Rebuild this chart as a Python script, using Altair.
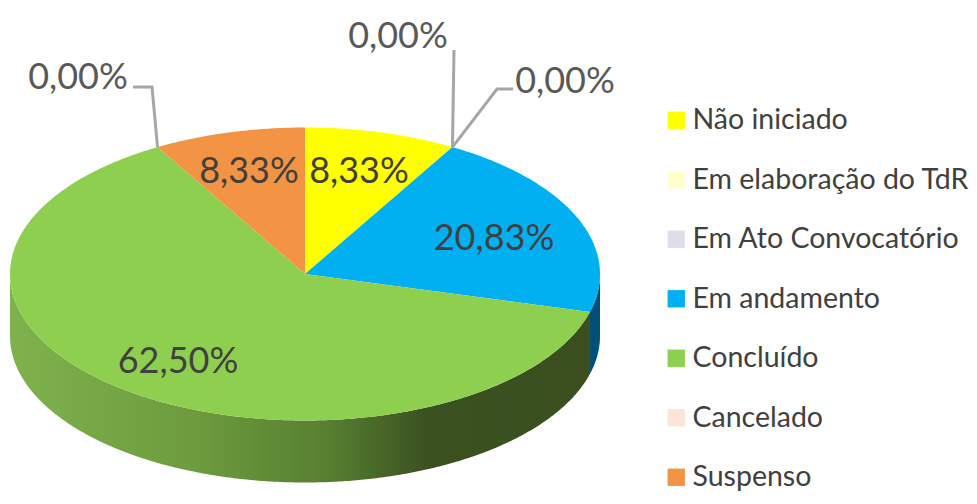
import math
import altair as alt

# ---- chart values -------------------------------------------------
categories = ["Não iniciado", "Em elaboração do TdR", "Em Ato Convocatório",
              "Em andamento", "Concluído", "Cancelado", "Suspenso"]
shares = [8.33, 0.0, 0.0, 20.83, 62.50, 0.0, 8.33]
colors = ["#FFFF00", "#FFFFCC", "#E1DCEB", "#00B0F0", "#8FCF50", "#FCE4D6", "#F39344"]

# ---- layout of the tilted pie (reference pixels) --------------------
CX, CY, RX, RY, DEPTH = 305, 274, 295, 146.5, 62
total = sum(shares)


def rim(deg, drop=0):
    a = math.radians(deg)
    return [CX + RX * math.sin(a), CY - RY * math.cos(a) + drop]


def arc(a0, a1, drop=0):
    n = max(2, int(abs(a1 - a0)) * 2)
    return [rim(a0 + (a1 - a0) * i / n, drop) for i in range(n + 1)]


def feature(cat, ring):
    ring = ring + [ring[0]]
    return {"type": "Feature", "properties": {"cat": cat},
            "geometry": {"type": "Polygon", "coordinates": [ring]}}


def line(points):
    return {"type": "Feature", "properties": {},
            "geometry": {"type": "LineString", "coordinates": points}}


starts, ang = {}, 0.0
tops = []
for cat, val in zip(categories, shares):
    sweep = val / total * 360
    starts[cat] = (ang, ang + sweep)
    if val > 0:
        tops.append(feature(cat, [[CX, CY]] + arc(ang, ang + sweep)))
    ang += sweep


def wall(a0, a1):
    return [feature("", arc(a0, a1) + arc(a1, a0, DEPTH))]


projection = dict(type="identity", scale=1, translate=[-8, -8])

grad_green = alt.Gradient(
    gradient="linear", x1=0, x2=1, y1=0, y2=0,
    stops=[alt.GradientStop(offset=0, color="#7FB24D"),
           alt.GradientStop(offset=0.33, color="#6C9A3D"),
           alt.GradientStop(offset=0.55, color="#567F30"),
           alt.GradientStop(offset=0.72, color="#3B5120"),
           alt.GradientStop(offset=1, color="#3A4E1E")])

side_green = alt.Chart(alt.Data(values=wall(starts["Concluído"][0], 270))).mark_geoshape(
    fill=grad_green, stroke=None).project(**projection)
side_blue = alt.Chart(alt.Data(values=wall(90, starts["Concluído"][0]))).mark_geoshape(
    fill="#004F78", stroke=None).project(**projection)

top = alt.Chart(alt.Data(values=tops)).mark_geoshape(strokeWidth=0).encode(
    color=alt.Color(
        "properties.cat:N",
        scale=alt.Scale(domain=categories, range=colors),
        legend=alt.Legend(
            title=None, orient="none", legendX=654, legendY=98,
            symbolType="square", symbolSize=300, symbolStrokeWidth=0,
            symbolOpacity=1,
            labelFont="Lato", labelFontSize=28.5, labelColor="#404040",
            labelLimit=320, labelOffset=2, rowPadding=30.5, padding=0,
            values=categories,
        ),
    )
).project(**projection)

p_right = rim(starts["Em andamento"][0])
p_left = rim(starts["Suspenso"][0])
leaders = [
    line([p_left, [152, 87], [133, 87]]),
    line([p_right, [454, 50]]),
    line([p_right, [497, 89], [513, 89]]),
]
leader_layer = alt.Chart(alt.Data(values=leaders)).mark_geoshape(
    filled=False, stroke="#A6A6A6", strokeWidth=3, fill=None).project(**projection)

inner_labels = [
    {"lon": 359, "lat": 172, "t": "8,33%"},
    {"lon": 249, "lat": 172, "t": "8,33%"},
    {"lon": 494, "lat": 239, "t": "20,83%"},
    {"lon": 178, "lat": 362, "t": "62,50%"},
]
outer_labels = [
    {"lon": 78, "lat": 78, "t": "0,00%"},
    {"lon": 398, "lat": 37, "t": "0,00%"},
    {"lon": 565, "lat": 82, "t": "0,00%"},
]


def text_layer(rows, color):
    return alt.Chart(alt.Data(values=rows)).mark_text(
        font="Lato", fontSize=36, color=color, align="center", baseline="middle"
    ).encode(longitude="lon:Q", latitude="lat:Q", text="t:N").project(**projection)


chart = alt.layer(
    side_green, side_blue, top, leader_layer,
    text_layer(inner_labels, "#404040"),
    text_layer(outer_labels, "#595959"),
).properties(
    width=961, height=488, padding=0,
    autosize=alt.AutoSizeParams(type="none"),
    background="white",
).configure_view(stroke=None)

chart.save("out.html", embed_options={"renderer": "svg", "actions": False})
